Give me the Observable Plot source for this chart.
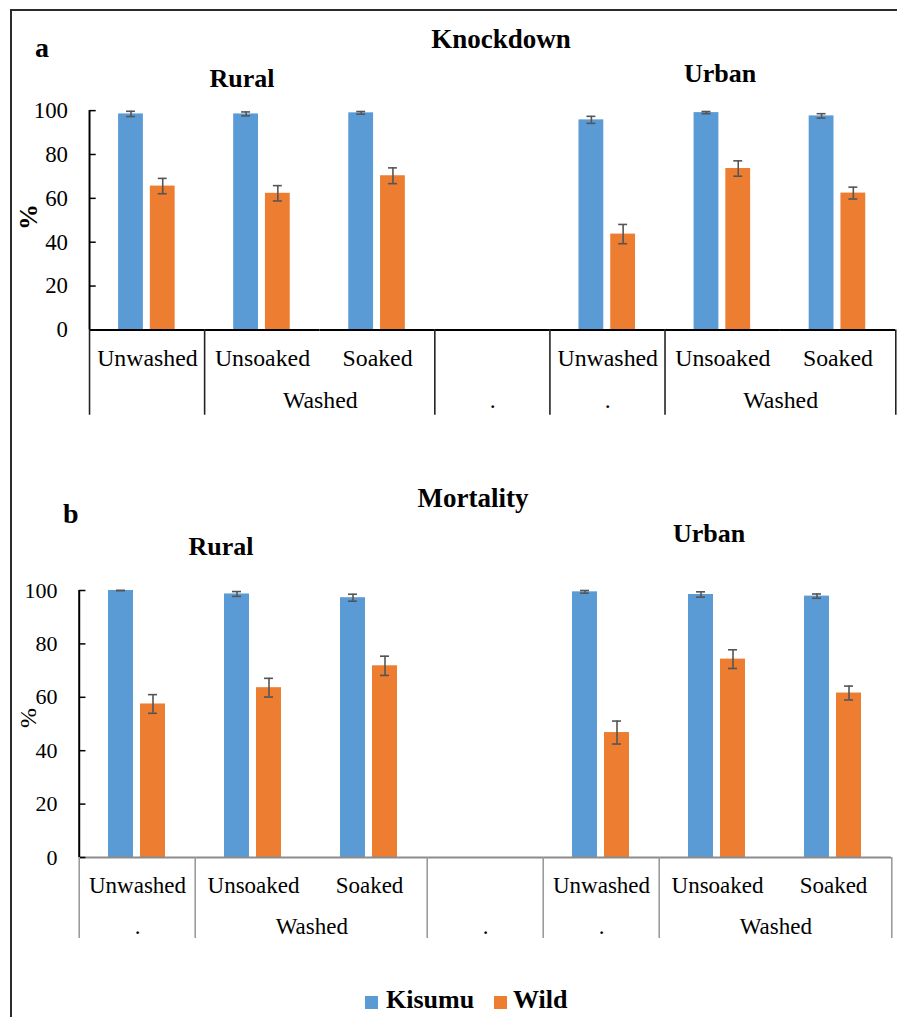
<!DOCTYPE html>
<html><head><meta charset="utf-8">
<script src="https://cdn.jsdelivr.net/npm/d3@7"></script>
<script src="https://cdn.jsdelivr.net/npm/@observablehq/plot@0.6"></script>
<style>
html,body{margin:0;padding:0;background:#fff;overflow:hidden;}
#fig{position:relative;width:897px;height:1017px;overflow:hidden;background:#fff;font-family:"Liberation Serif","Times New Roman",serif;color:#000;}
.frame{position:absolute;left:10px;top:9px;width:900px;height:1020px;border-left:2px solid #2b2b2b;border-top:2px solid #2b2b2b;}
.t{position:absolute;white-space:nowrap;line-height:1;font-weight:bold;}
.c{transform:translateX(-50%);}
.rot{transform:translate(-50%,-50%) rotate(-90deg);}
.panel{position:absolute;left:0;}
.sq{position:absolute;width:13px;height:13px;}
.leg{line-height:0.9;}
</style></head><body><div id="fig"><div class="frame"></div></div>
<script>
// ---------- data ----------
const SITES = ["Rural", "Urban"];
const TREATMENTS = ["Unwashed", "Unsoaked", "Soaked"];
const SERIES = ["Kisumu", "Wild"];
const COLORS = ["#5b9bd5", "#ed7d31"];
const Y_TICKS = [0, 20, 40, 60, 80, 100];
const GAP = " ";
const TITLES = ["Knockdown", "Mortality"];
const PANEL_LETTERS = ["a", "b"];

// order: Rural Unwashed, Rural Unsoaked, Rural Soaked, Urban Unwashed, Urban Unsoaked, Urban Soaked
const knockKisumu    = [98.5, 98.5, 99.0, 95.8, 99.1, 97.6];
const knockKisumuErr = [1.2, 0.9, 0.6, 1.6, 0.5, 1.0];
const knockWild      = [65.6, 62.3, 70.3, 43.7, 73.6, 62.4];
const knockWildErr   = [3.5, 3.5, 3.6, 4.4, 3.5, 2.7];

const mortKisumu     = [100.0, 98.7, 97.3, 99.5, 98.5, 97.9];
const mortKisumuErr  = [0.0, 0.9, 1.3, 0.5, 1.0, 0.8];
const mortWild       = [57.5, 63.6, 71.8, 46.8, 74.3, 61.6];
const mortWildErr    = [3.5, 3.5, 3.6, 4.3, 3.5, 2.6];

// ---------- build ----------
const KEYS = [...TREATMENTS.map(t => "Rural " + t), GAP, ...TREATMENTS.map(t => "Urban " + t)];
const cats = [];
SITES.forEach((s, i) => TREATMENTS.forEach((t, j) => cats.push({key: s + " " + t, site: s, treatment: t, idx: i * 3 + j})));

function rowsOf(k, kErr, w, wErr) {
  const rows = [];
  cats.forEach(c => {
    rows.push({key: c.key, series: SERIES[0], value: k[c.idx], err: kErr[c.idx]});
    rows.push({key: c.key, series: SERIES[1], value: w[c.idx], err: wErr[c.idx]});
  });
  return rows;
}

function makePanel(cfg) {
  const {rows, width, height, marginLeft, marginTop, marginBottom, fontSize, catSize, axisColor, sepColor, row1dy, row2dy, sepLen, dotKeys} = cfg;
  const step = (width - marginLeft) / KEYS.length;
  const plotH = height - marginTop - marginBottom;
  const sepLeft = [KEYS[0], KEYS[1], KEYS[3], KEYS[4], KEYS[5]];
  const washedKeys = ["Rural Unsoaked", "Urban Unsoaked"];
  return Plot.plot({
    width, height, marginLeft, marginRight: 0, marginTop, marginBottom,
    style: {fontFamily: "'Liberation Serif', 'Times New Roman', serif", fontSize: fontSize + "px", color: "#000", background: "transparent", overflow: "visible"},
    fx: {domain: KEYS, padding: 0, axis: null},
    x: {domain: SERIES, paddingInner: 7 / 33, paddingOuter: 0.8726, axis: null},
    y: {domain: [0, 100], ticks: Y_TICKS, tickSize: 0, tickPadding: 22, label: null},
    color: {domain: SERIES, range: COLORS},
    marks: [
      Plot.barY(rows, {fx: "key", x: "series", y: "value", fill: "series"}),
      Plot.ruleX(rows, {fx: "key", x: "series", y1: d => d.value - d.err, y2: d => d.value + d.err, stroke: "#555", strokeWidth: 1.6}),
      Plot.tickY(rows, {fx: "key", x: "series", y: d => d.value + d.err, insetLeft: 8, insetRight: 8, stroke: "#555", strokeWidth: 1.6}),
      Plot.tickY(rows, {fx: "key", x: "series", y: d => d.value - d.err, insetLeft: 8, insetRight: 8, stroke: "#555", strokeWidth: 1.6}),
      Plot.ruleY([0], {stroke: axisColor, strokeWidth: 2}),
      // y axis line and inward ticks
      Plot.ruleX([KEYS[0]], {fx: d => d, x: null, dx: -step / 2, stroke: "#000", strokeWidth: 2}),
      Plot.tickY(Y_TICKS, {fx: () => KEYS[0], y: d => d, insetRight: step - 7, stroke: "#000", strokeWidth: 1.5}),
      // category separators
      Plot.ruleX(sepLeft, {fx: d => d, x: null, dx: -step / 2, insetTop: plotH, insetBottom: -sepLen, stroke: sepColor, strokeWidth: 1.6}),
      Plot.ruleX([KEYS[6]], {fx: d => d, x: null, dx: step / 2, insetTop: plotH, insetBottom: -sepLen, stroke: sepColor, strokeWidth: 1.6}),
      // category labels
      Plot.text(cats, {fx: "key", text: "treatment", frameAnchor: "bottom", lineAnchor: "top", dy: row1dy, fontSize: catSize, fill: "#000"}),
      Plot.text(dotKeys, {fx: d => d, text: () => ".", frameAnchor: "bottom", lineAnchor: "top", dy: row2dy, fontSize: catSize, fill: "#000"}),
      Plot.text(washedKeys, {fx: d => d, text: () => "Washed", frameAnchor: "bottom", lineAnchor: "top", dy: row2dy, dx: step / 2, fontSize: catSize, fill: "#000"})
    ]
  });
}

const fig = document.getElementById("fig");
function addText(txt, cls, left, top, size, weight) {
  const d = document.createElement("div");
  d.className = "t " + cls;
  d.textContent = txt;
  d.style.left = left + "px";
  d.style.top = top + "px";
  d.style.fontSize = size + "px";
  if (weight) d.style.fontWeight = weight;
  fig.appendChild(d);
  return d;
}

// top panel
const p1 = makePanel({
  rows: rowsOf(knockKisumu, knockKisumuErr, knockWild, knockWildErr),
  width: 904, height: 420, marginLeft: 88, marginTop: 111, marginBottom: 88,
  fontSize: 23, catSize: 24, axisColor: "#000", sepColor: "#222", row1dy: 19, row2dy: 62, sepLen: 86,
  dotKeys: [GAP, "Urban Unwashed"]
});
p1.classList.add("panel"); p1.style.top = "0px";
fig.appendChild(p1);

const p2 = makePanel({
  rows: rowsOf(mortKisumu, mortKisumuErr, mortWild, mortWildErr),
  width: 893, height: 470, marginLeft: 77, marginTop: 120, marginBottom: 83,
  fontSize: 22, catSize: 23, axisColor: "#8c8c8c", sepColor: "#9a9a9a", row1dy: 18.7, row2dy: 59.7, sepLen: 81,
  dotKeys: ["Rural Unwashed", GAP, "Urban Unwashed"]
});
p2.classList.add("panel"); p2.style.top = "470px";
fig.appendChild(p2);

// titles
addText(PANEL_LETTERS[0], "", 35, 33.5, 28);
addText(TITLES[0], "c", 501, 26.4, 27);
addText(SITES[0], "c", 242, 66.2, 26);
addText(SITES[1], "c", 720, 61.2, 26);
addText("%", "rot", 29, 217, 26);

addText(PANEL_LETTERS[1], "", 63, 499.5, 28);
addText(TITLES[1], "c", 473, 485.4, 27);
addText(SITES[0], "c", 221, 534.2, 26);
addText(SITES[1], "c", 709, 521.2, 26);
addText("%", "rot", 28, 718, 24, "normal");

// legend
SERIES.forEach((s, i) => {
  const sq = document.createElement("div");
  sq.className = "sq";
  sq.style.background = COLORS[i];
  sq.style.left = [365, 494][i] + "px";
  sq.style.top = "996px";
  fig.appendChild(sq);
  addText(s, "leg", [386, 513][i], 988, 26);
});
</script></body></html>
